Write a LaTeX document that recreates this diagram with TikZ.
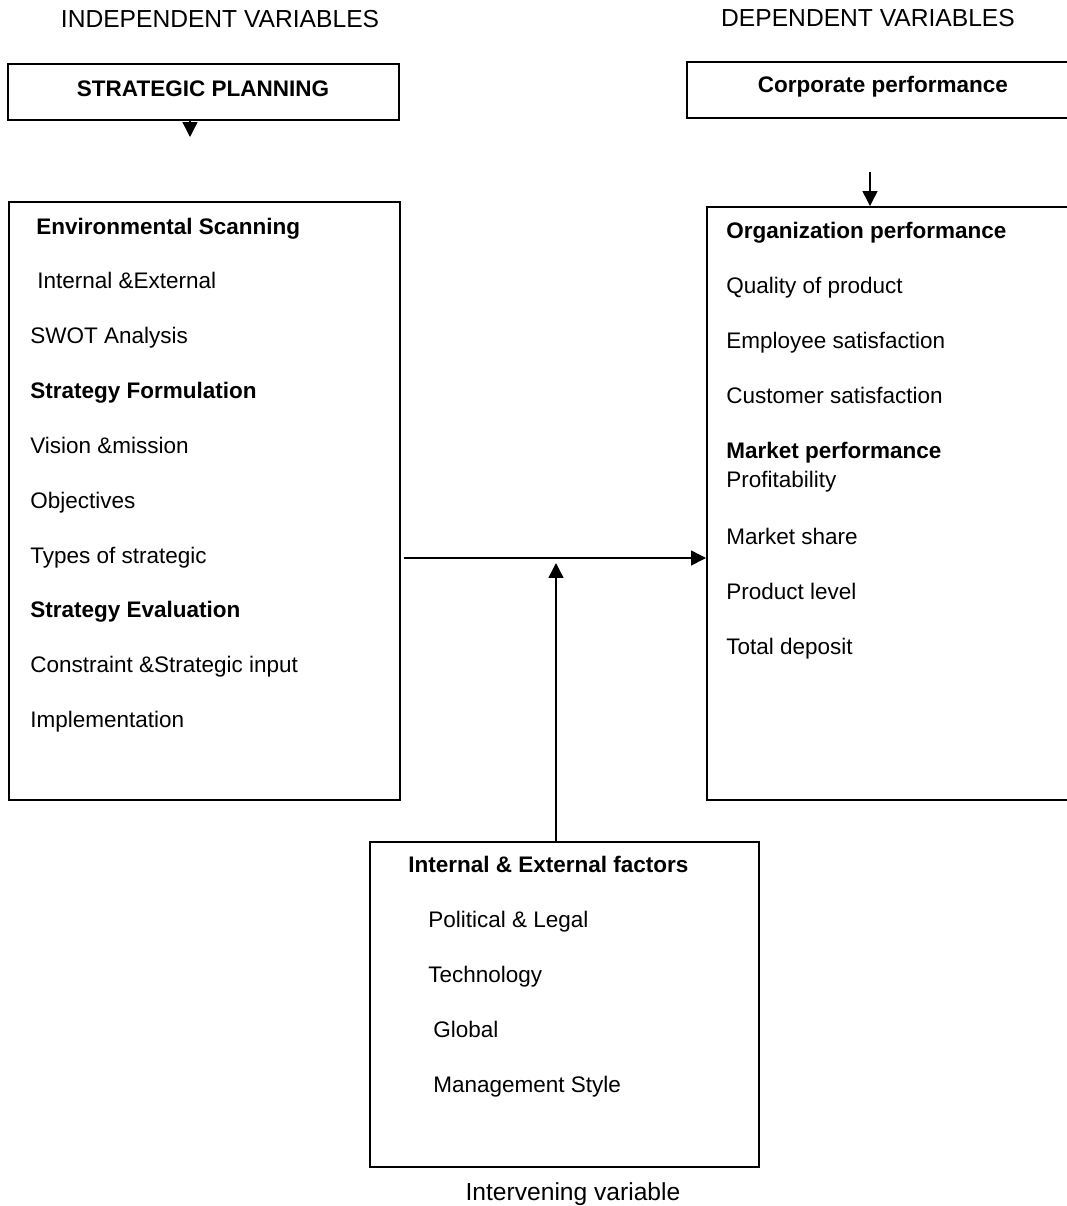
\documentclass[tikz,border=0pt]{standalone}
\usepackage{fontspec}
\setmainfont{Liberation Sans}
\usetikzlibrary{arrows.meta,fit,positioning}

\begin{document}
\begin{tikzpicture}[x=0.025cm, y=-0.025cm,
  box/.style={draw, line width=1.4pt, inner sep=0pt, fit={#1}},
  txt/.style={anchor=base west, inner sep=0pt, font=\fontsize{16}{19}\selectfont},
  head/.style={txt, font=\fontsize{16}{19}\selectfont\bfseries},
  title/.style={anchor=base, inner sep=0pt, font=\fontsize{17.5}{21}\selectfont},
  arr/.style={-{Triangle[length=0.37cm, width=0.37cm]}, line width=1pt}]
\useasboundingbox (0,0) rectangle (1067,1206);
\clip (0,0) rectangle (1067,1206);

% titles
\node[title] (indep) at (220,27) {INDEPENDENT VARIABLES};
\node[title] (dep)   at (868,26) {DEPENDENT VARIABLES};
\node[title] (interv) at (573,1200) {Intervening variable};

% top boxes
\node[box={(8,64) (399,120)}] (sp) {};
\node[title, font=\fontsize{16}{19}\selectfont\bfseries] at (203,96) {STRATEGIC PLANNING};
\node[box={(687,62) (1100,118)}] (cp) {};
\node[title, font=\fontsize{16}{19}\selectfont\bfseries] at (883,92) {Corporate performance};

% independent variables
\node[box={(9,202) (400,800)}] (lb) {};
\node[head] (envscan) at (36,234) {Environmental Scanning};
\node[txt]  (intext)  at (37,288) {Internal \&External};
\node[txt]  (swot)    at (30,343) {SWOT Analysis};
\node[head] (stform)  at (30,398) {Strategy Formulation};
\node[txt]  (vision)  at (30,453) {Vision \&mission};
\node[txt]  (obj)     at (30,508) {Objectives};
\node[txt]  (types)   at (30,563) {Types of strategic};
\node[head] (steval)  at (30,617) {Strategy Evaluation};
\node[txt]  (constr)  at (30,672) {Constraint \&Strategic input};
\node[txt]  (impl)    at (30,727) {Implementation};

% dependent variables
\node[box={(707,207) (1100,800)}] (rb) {};
\node[head] (orgperf) at (726,238) {Organization performance};
\node[txt]  (quality) at (726,293) {Quality of product};
\node[txt]  (employ)  at (726,348) {Employee satisfaction};
\node[txt]  (custom)  at (726,403) {Customer satisfaction};
\node[head] (mktperf) at (726,458) {Market performance};
\node[txt]  (profit)  at (726,487) {Profitability};
\node[txt]  (share)   at (726,544) {Market share};
\node[txt]  (prodlev) at (726,599) {Product level};
\node[txt]  (deposit) at (726,654) {Total deposit};

% intervening variable
\node[box={(370,842) (759,1167)}] (ib) {};
\node[head] (factors) at (408,872)  {Internal \& External factors};
\node[txt]  (politic) at (428,927)  {Political \& Legal};
\node[txt]  (techno)  at (428,982)  {Technology};
\node[txt]  (global)  at (433,1037) {Global};
\node[txt]  (mgmt)    at (433,1092) {Management Style};

% connectors
\coordinate (sptip) at (190,137);
\coordinate (cptail) at (870,172);
\coordinate (hstart) at (404,558);
\coordinate (vtip) at (556,563);
\draw[arr] (sp.south -| sptip) -- (sptip);
\draw[arr] (cptail) -- (rb.north -| cptail);
\draw[arr] (hstart) -- (hstart -| rb.west);
\draw[arr] (ib.north -| vtip) -- (vtip);
\end{tikzpicture}
\end{document}
